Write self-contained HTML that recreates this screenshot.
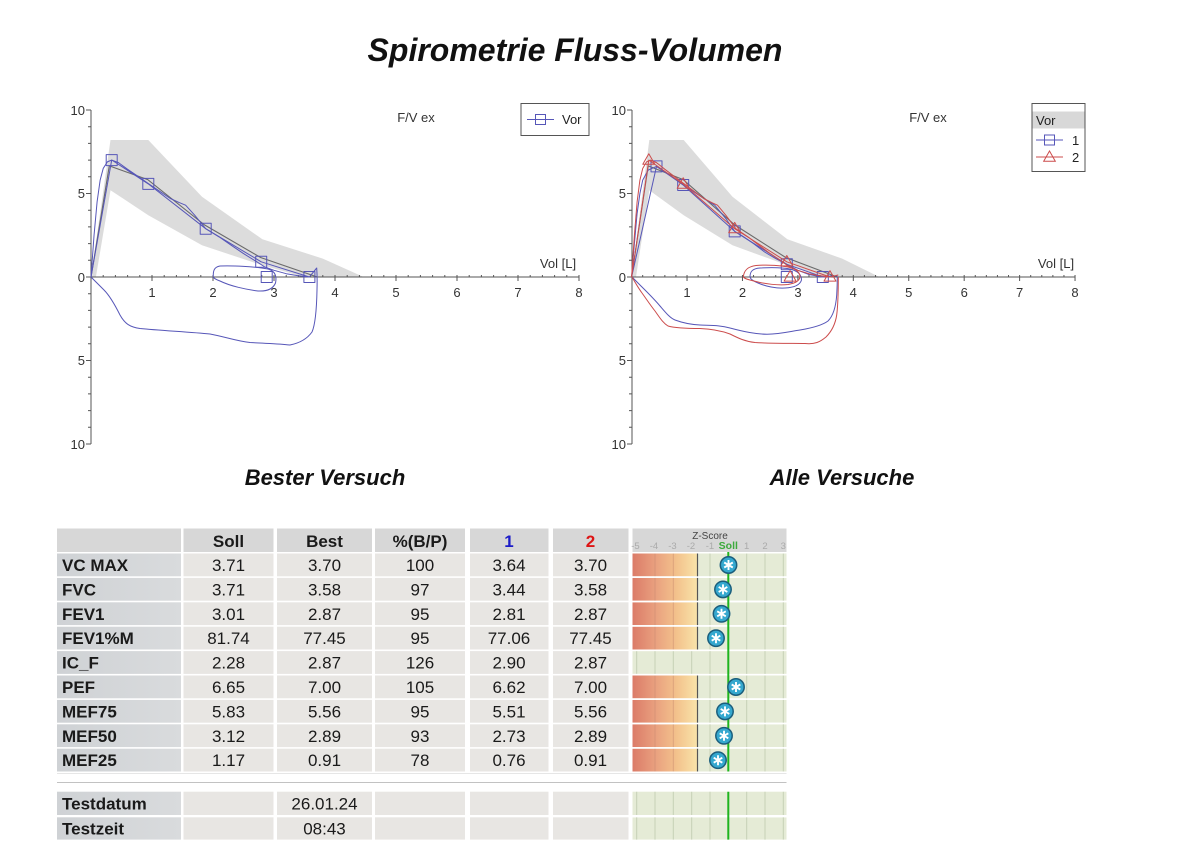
<!DOCTYPE html>
<html><head><meta charset="utf-8"><style>
html,body{margin:0;padding:0;background:#fff;}
svg{display:block;font-family:"Liberation Sans",Arial,sans-serif;}
</style></head><body>
<svg width="1190" height="860" viewBox="0 0 1190 860" xmlns="http://www.w3.org/2000/svg">
<defs>
<linearGradient id="zg" x1="632.5" y1="0" x2="697.5" y2="0" gradientUnits="userSpaceOnUse">
<stop offset="0" stop-color="#db7b68"/><stop offset="0.35" stop-color="#e9a07f"/><stop offset="0.68" stop-color="#f3c28c"/><stop offset="1" stop-color="#f9e4aa"/>
</linearGradient>
<linearGradient id="lg" x1="0" y1="0" x2="1" y2="0"><stop offset="0" stop-color="#cfd2d5"/><stop offset="1" stop-color="#d9dbdd"/></linearGradient>
<g id="star"><circle r="8.2" fill="#35a8cf" stroke="#1b5e7c" stroke-width="1.5"/><path d="M0 -5V5M-4.3 -2.5L4.3 2.5M-4.3 2.5L4.3 -2.5" stroke="#fff" stroke-width="1.9" fill="none"/></g>
</defs>

<!-- Title -->
<text x="575" y="61" text-anchor="middle" font-size="32" font-weight="bold" font-style="italic" fill="#111">Spirometrie Fluss-Volumen</text>

<!-- ===== LEFT CHART ===== -->
<polygon points="91,277 110.5,140 148.3,140 202,196.8 262.4,239.3 322.8,258.6 363.7,277 304.5,277 262.4,265.3 202,245.3 148.3,215.2 110.5,190.2 95.9,277" fill="#dcdcdc"/>
<polyline points="91,277 109.3,165.9 147.7,179.6 204.5,224.9 260.6,257.5 317.3,277" fill="none" stroke="#6a6a6a" stroke-width="1.1"/>
<!-- axes -->
<path d="M91 110V444M91 277H579" stroke="#555" stroke-width="1" fill="none"/>
<path d="M86 110h5M88 126.7h3M88 143.4h3M88 160.1h3M88 176.8h3M86 193.5h5M88 210.2h3M88 226.9h3M88 243.6h3M88 260.3h3M86 277h5M88 293.7h3M88 310.4h3M88 327.1h3M88 343.8h3M86 360.5h5M88 377.2h3M88 393.9h3M88 410.6h3M88 427.3h3M86 444h5" stroke="#555" stroke-width="1"/>
<g transform="translate(91,277) scale(61,1)">
<path vector-effect="non-scaling-stroke" stroke="#555" stroke-width="1" fill="none" d="M0 0v-2m.2 2v-2m.2 2v-2m.2 2v-2m.2 2v-2m.2 2v-2m.2 2v-2m.2 2v-2m.2 2v-2m.2 2v-2m.2 2v-2m.2 2v-2m.2 2v-2m.2 2v-2m.2 2v-2m.2 2v-2m.2 2v-2m.2 2v-2m.2 2v-2m.2 2v-2m.2 2v-2m.2 2v-2m.2 2v-2m.2 2v-2m.2 2v-2m.2 2v-2m.2 2v-2m.2 2v-2m.2 2v-2m.2 2v-2m.2 2v-2m.2 2v-2m.2 2v-2m.2 2v-2m.2 2v-2m.2 2v-2m.2 2v-2m.2 2v-2m.2 2v-2m.2 2v-2m.2 2v-2M1 0v4M2 0v4M3 0v4M4 0v4M5 0v4M6 0v4M7 0v4M8 0v4"/>
</g>
<g font-size="13" fill="#333">
<text x="85" y="115" text-anchor="end">10</text>
<text x="85" y="198" text-anchor="end">5</text>
<text x="85" y="282" text-anchor="end">0</text>
<text x="85" y="365" text-anchor="end">5</text>
<text x="85" y="449" text-anchor="end">10</text>
<g text-anchor="middle">
<text x="152" y="297">1</text><text x="213" y="297">2</text><text x="274" y="297">3</text><text x="335" y="297">4</text><text x="396" y="297">5</text><text x="457" y="297">6</text><text x="518" y="297">7</text><text x="579" y="297">8</text>
<text x="416" y="122">F/V ex</text>
<text x="558" y="268">Vol [L]</text>
</g>
</g>
<!-- blue best curves -->
<g fill="none" stroke="#5656b8" stroke-width="1" stroke-linejoin="round">
<polyline points="91,277 111.7,160 148.3,183.9 205.7,228.7 261.2,261.8 309.4,277"/>
<polyline points="91,277 94.05,235.25 97.1,201.85 100.15,180.1 103.2,168.45 107.47,161.77 111.74,160.1 118.45,162.6 127.6,169.3 139.8,177.6 148.3,183.5 158.1,190.2 170.3,198.5 179.5,202.7 185.6,205.2 194.7,215.2 205.7,228.7 219.1,236.9 231.3,245.3 243.5,253.6 255.7,261.1 264.9,267 274,270.3 286.2,273.7 298.4,275.7 309.4,277 316.7,268"/>
<path d="M91 277C96 282 100 286 104 290C110 296 115 305 120 315C125 324 130 327 140 328.5C160 330.5 190 332 210 334C226 337 236 341 250 342.5C265 343.5 278 343.5 290 345C300 343 307 339 312 332C316 323 316.7 305 317 290C317.3 280 317 272 316.7 267.7"/>
<path d="M213.3 277C213 271 214 267 220 266C232 265.5 255 266.5 268 269C275 271 277 276 275.5 283C273 289 267 291.5 258 291C246 289.5 230 286 220 281C216 279.5 214 278.5 213.3 277Z"/>
<rect x="106.2" y="154.6" width="11" height="11"/>
<rect x="142.8" y="178.4" width="11" height="11"/>
<rect x="200.2" y="223.2" width="11" height="11"/>
<rect x="255.7" y="256.3" width="11" height="11"/>
<rect x="261.2" y="271.5" width="11" height="11"/>
<rect x="303.9" y="271.5" width="11" height="11"/>
</g>
<!-- left legend -->
<rect x="521" y="103.5" width="68" height="32" fill="#fff" stroke="#555" stroke-width="1"/>
<path d="M527 119.5h27" stroke="#5656b8" stroke-width="1"/>
<rect x="535.5" y="114.5" width="10" height="10" fill="none" stroke="#5656b8" stroke-width="1"/>
<text x="562" y="124" font-size="13" fill="#222">Vor</text>

<!-- ===== RIGHT CHART ===== -->
<polygon points="631.6,277 649.3,140 683.7,140 732.5,196.8 787.4,239.3 842.2,258.6 879.4,277 825.6,277 787.4,265.3 732.5,245.3 683.7,215.2 649.3,190.2 636,277" fill="#dcdcdc"/>
<polyline points="631.6,277 648.2,165.9 683.2,179.6 734.7,224.9 785.7,257.5 837.2,277" fill="none" stroke="#6a6a6a" stroke-width="1.1"/>
<path d="M632 110V444M632 277H1075" stroke="#555" stroke-width="1" fill="none"/>
<g transform="translate(541,0)">
<path d="M86 110h5M88 126.7h3M88 143.4h3M88 160.1h3M88 176.8h3M86 193.5h5M88 210.2h3M88 226.9h3M88 243.6h3M88 260.3h3M86 277h5M88 293.7h3M88 310.4h3M88 327.1h3M88 343.8h3M86 360.5h5M88 377.2h3M88 393.9h3M88 410.6h3M88 427.3h3M86 444h5" stroke="#555" stroke-width="1"/>
</g>
<g transform="translate(631.6,277) scale(55.43,1)">
<path vector-effect="non-scaling-stroke" stroke="#555" stroke-width="1" fill="none" d="M0 0v-2m.2 2v-2m.2 2v-2m.2 2v-2m.2 2v-2m.2 2v-2m.2 2v-2m.2 2v-2m.2 2v-2m.2 2v-2m.2 2v-2m.2 2v-2m.2 2v-2m.2 2v-2m.2 2v-2m.2 2v-2m.2 2v-2m.2 2v-2m.2 2v-2m.2 2v-2m.2 2v-2m.2 2v-2m.2 2v-2m.2 2v-2m.2 2v-2m.2 2v-2m.2 2v-2m.2 2v-2m.2 2v-2m.2 2v-2m.2 2v-2m.2 2v-2m.2 2v-2m.2 2v-2m.2 2v-2m.2 2v-2m.2 2v-2m.2 2v-2m.2 2v-2m.2 2v-2m.2 2v-2M1 0v4M2 0v4M3 0v4M4 0v4M5 0v4M6 0v4M7 0v4M8 0v4"/>
</g>
<g font-size="13" fill="#333">
<text x="626" y="115" text-anchor="end">10</text>
<text x="626" y="198" text-anchor="end">5</text>
<text x="626" y="282" text-anchor="end">0</text>
<text x="626" y="365" text-anchor="end">5</text>
<text x="626" y="449" text-anchor="end">10</text>
<g text-anchor="middle">
<text x="687" y="297">1</text><text x="742.5" y="297">2</text><text x="798" y="297">3</text><text x="853.3" y="297">4</text><text x="908.8" y="297">5</text><text x="964.2" y="297">6</text><text x="1019.6" y="297">7</text><text x="1075" y="297">8</text>
<text x="928" y="122">F/V ex</text>
<text x="1056" y="268">Vol [L]</text>
</g>
</g>
<!-- blue trial 1 -->
<g fill="none" stroke="#5656b8" stroke-width="1" stroke-linejoin="round">
<polyline points="631.6,277 656.5,166.4 683.2,185 734.7,231.4 786.8,264.3 822.8,277"/>
<polyline points="631.6,277 634.4,243.6 637.1,213.5 639.9,193.5 642.7,180.1 648.2,170.1 656.5,166.4 664.9,171.8 675.9,179.3 683.2,185 692.6,191 703.7,198.5 714.7,205.2 725.8,218.6 734.7,231.4 742.5,236.1 753.5,243.6 764.6,252 775.7,258.6 786.8,264.3 797.9,270.3 809,274.5 822.3,277 831.2,276 837.3,276"/>
<path d="M632 277C637 282 640 285 644 289C650 295 655 300 660 306C666 313 670 318 675 320C683 323 690 324.5 700 325C710 325.5 720 325 730 328C745 332 755 334 767 334.3C780 334 790 331.5 800 330C812 328 822 325.5 828 321C834 315 836 305 836.7 295C837.2 287 837.3 280 837.3 277"/>
<path d="M750 277C750 271 753 268.5 760 268C770 267.5 782 267.5 790 269C798 271 801.5 275 801.5 280C800 285 795 287.5 785 288C775 288.5 765 286 758 283C753 281 750.5 279 750 277Z"/>
<rect x="651" y="160.9" width="11" height="11"/>
<rect x="677.7" y="179.5" width="11" height="11"/>
<rect x="729.2" y="225.9" width="11" height="11"/>
<rect x="781.3" y="258.8" width="11" height="11"/>
<rect x="781.3" y="271.5" width="11" height="11"/>
<rect x="817.3" y="271.5" width="11" height="11"/>
</g>
<!-- red trial 2 -->
<g fill="none" stroke="#cc4c4c" stroke-width="1" stroke-linejoin="round">
<polyline points="631.6,277 648.8,160.1 683.2,184.1 734.7,228.7 786.8,261.8 830,277"/>
<polyline points="631.6,277 634.4,235.3 637.1,201.9 639.9,180.1 642.7,168.5 646.6,161.8 650.4,160.1 656.5,162.6 664.9,169.3 675.9,177.6 683.7,183.5 692.6,190.2 703.7,198.5 712,202.7 717.5,205.2 725.8,215.2 735.8,228.7 748,236.9 759.1,245.3 770.2,253.6 781.3,261.1 789.6,267 797.9,270.3 809,273.7 820.1,275.7 830,277 836.7,275.3 838.3,275"/>
<path d="M632 277C636 284 639 289 642 293C647 300 651 306 655 311C660 318 663 323 668 326C675 328 685 328.5 700 328.5C712 329 722 331 730 334C738 338 745 341.5 755 342.5C770 343.5 790 343.3 805 343.5C815 344.5 820 342 826 337C832 331 835.5 323 836.7 315C838 305 838.3 295 838.3 277"/>
<path d="M743.3 277C744 270 748 266.5 756 265.5C768 264.5 782 265.5 790 267.5C797 269.5 800 272.5 800 277C799 281 796 283 788 284.5C778 285.5 765 284 756 281.5C749 280 745 279 743.3 277Z"/>
<polygon points="648.8,153.8 654.8,164.2 642.8,164.2"/>
<polygon points="683.2,177.8 689.2,188.2 677.2,188.2"/>
<polygon points="734.7,222.4 740.7,232.8 728.7,232.8"/>
<polygon points="786.8,255.5 792.8,265.9 780.8,265.9"/>
<polygon points="790.1,270.7 796.1,281.1 784.1,281.1"/>
<polygon points="830,270.7 836,281.1 824,281.1"/>
</g>
<!-- right legend -->
<rect x="1032" y="103.5" width="53" height="68" fill="#fff" stroke="#555" stroke-width="1"/>
<rect x="1032.5" y="111.5" width="52" height="17" fill="#d8d8d8"/>
<text x="1036" y="125" font-size="13" fill="#222">Vor</text>
<path d="M1036 140h27" stroke="#5656b8" stroke-width="1"/>
<rect x="1044.5" y="135" width="10" height="10" fill="none" stroke="#5656b8" stroke-width="1"/>
<text x="1072" y="145" font-size="13" fill="#222">1</text>
<path d="M1036 157h27" stroke="#cc4c4c" stroke-width="1"/>
<polygon points="1049.5,151 1055.3,161.2 1043.7,161.2" fill="none" stroke="#cc4c4c" stroke-width="1"/>
<text x="1072" y="162" font-size="13" fill="#222">2</text>

<!-- subtitles -->
<text x="325" y="485" text-anchor="middle" font-size="22" font-weight="bold" font-style="italic" fill="#111">Bester Versuch</text>
<text x="842" y="485" text-anchor="middle" font-size="22" font-weight="bold" font-style="italic" fill="#111">Alle Versuche</text>

<!-- ===== TABLE ===== -->
<g fill="#d7d7d7">
<rect x="57" y="528.5" width="124" height="23.5"/>
<rect x="183.5" y="528.5" width="90" height="23.5"/>
<rect x="277" y="528.5" width="95" height="23.5"/>
<rect x="375" y="528.5" width="90" height="23.5"/>
<rect x="470" y="528.5" width="78.5" height="23.5"/>
<rect x="553" y="528.5" width="75.5" height="23.5"/>
<rect x="632.5" y="528.5" width="154" height="23.5"/>
</g>
<g font-size="17" font-weight="bold" fill="#1a1a1a" text-anchor="middle">
<text x="228.5" y="547">Soll</text>
<text x="324.5" y="547">Best</text>
<text x="420" y="547">%(B/P)</text>
<text x="509" y="547" fill="#1c1cc8">1</text>
<text x="590.5" y="547" fill="#dd1414">2</text>
</g>
<text x="710" y="539" font-size="10" fill="#444" text-anchor="middle">Z-Score</text>
<g font-size="9.5" fill="#aaa" text-anchor="middle">
<text x="635.5" y="549">-5</text><text x="654" y="549">-4</text><text x="672.5" y="549">-3</text><text x="691" y="549">-2</text><text x="710" y="549">-1</text>
<text x="728.3" y="549" fill="#3caa3c" font-weight="bold" font-size="10.5">Soll</text>
<text x="746.7" y="549">1</text><text x="765" y="549">2</text><text x="783.3" y="549">3</text>
</g>

<g>
<g fill="url(#lg)">
<rect x="57" y="553.5" width="124" height="22.8"/><rect x="57" y="577.9" width="124" height="22.8"/><rect x="57" y="602.3" width="124" height="22.8"/><rect x="57" y="626.7" width="124" height="22.8"/><rect x="57" y="651.1" width="124" height="22.8"/><rect x="57" y="675.5" width="124" height="22.8"/><rect x="57" y="699.9" width="124" height="22.8"/><rect x="57" y="724.3" width="124" height="22.8"/><rect x="57" y="748.7" width="124" height="22.8"/>
<rect x="57" y="791.7" width="124" height="23.3"/><rect x="57" y="817.3" width="124" height="22.3"/>
</g>
<g fill="#e8e6e3">
<rect x="183.5" y="553.5" width="90" height="22.8"/><rect x="277" y="553.5" width="95" height="22.8"/><rect x="375" y="553.5" width="90" height="22.8"/><rect x="470" y="553.5" width="78.5" height="22.8"/><rect x="553" y="553.5" width="75.5" height="22.8"/>
<rect x="183.5" y="577.9" width="90" height="22.8"/><rect x="277" y="577.9" width="95" height="22.8"/><rect x="375" y="577.9" width="90" height="22.8"/><rect x="470" y="577.9" width="78.5" height="22.8"/><rect x="553" y="577.9" width="75.5" height="22.8"/>
<rect x="183.5" y="602.3" width="90" height="22.8"/><rect x="277" y="602.3" width="95" height="22.8"/><rect x="375" y="602.3" width="90" height="22.8"/><rect x="470" y="602.3" width="78.5" height="22.8"/><rect x="553" y="602.3" width="75.5" height="22.8"/>
<rect x="183.5" y="626.7" width="90" height="22.8"/><rect x="277" y="626.7" width="95" height="22.8"/><rect x="375" y="626.7" width="90" height="22.8"/><rect x="470" y="626.7" width="78.5" height="22.8"/><rect x="553" y="626.7" width="75.5" height="22.8"/>
<rect x="183.5" y="651.1" width="90" height="22.8"/><rect x="277" y="651.1" width="95" height="22.8"/><rect x="375" y="651.1" width="90" height="22.8"/><rect x="470" y="651.1" width="78.5" height="22.8"/><rect x="553" y="651.1" width="75.5" height="22.8"/>
<rect x="183.5" y="675.5" width="90" height="22.8"/><rect x="277" y="675.5" width="95" height="22.8"/><rect x="375" y="675.5" width="90" height="22.8"/><rect x="470" y="675.5" width="78.5" height="22.8"/><rect x="553" y="675.5" width="75.5" height="22.8"/>
<rect x="183.5" y="699.9" width="90" height="22.8"/><rect x="277" y="699.9" width="95" height="22.8"/><rect x="375" y="699.9" width="90" height="22.8"/><rect x="470" y="699.9" width="78.5" height="22.8"/><rect x="553" y="699.9" width="75.5" height="22.8"/>
<rect x="183.5" y="724.3" width="90" height="22.8"/><rect x="277" y="724.3" width="95" height="22.8"/><rect x="375" y="724.3" width="90" height="22.8"/><rect x="470" y="724.3" width="78.5" height="22.8"/><rect x="553" y="724.3" width="75.5" height="22.8"/>
<rect x="183.5" y="748.7" width="90" height="22.8"/><rect x="277" y="748.7" width="95" height="22.8"/><rect x="375" y="748.7" width="90" height="22.8"/><rect x="470" y="748.7" width="78.5" height="22.8"/><rect x="553" y="748.7" width="75.5" height="22.8"/>
<rect x="183.5" y="791.7" width="90" height="23.3"/><rect x="277" y="791.7" width="95" height="23.3"/><rect x="375" y="791.7" width="90" height="23.3"/><rect x="470" y="791.7" width="78.5" height="23.3"/><rect x="553" y="791.7" width="75.5" height="23.3"/>
<rect x="183.5" y="817.3" width="90" height="22.3"/><rect x="277" y="817.3" width="95" height="22.3"/><rect x="375" y="817.3" width="90" height="22.3"/><rect x="470" y="817.3" width="78.5" height="22.3"/><rect x="553" y="817.3" width="75.5" height="22.3"/>
</g>
<g fill="#e5ebd6">
<rect x="632.5" y="553.5" width="154" height="22.8"/><rect x="632.5" y="577.9" width="154" height="22.8"/><rect x="632.5" y="602.3" width="154" height="22.8"/><rect x="632.5" y="626.7" width="154" height="22.8"/><rect x="632.5" y="651.1" width="154" height="22.8"/><rect x="632.5" y="675.5" width="154" height="22.8"/><rect x="632.5" y="699.9" width="154" height="22.8"/><rect x="632.5" y="724.3" width="154" height="22.8"/><rect x="632.5" y="748.7" width="154" height="22.8"/>
<rect x="632.5" y="791.7" width="154" height="23.3"/><rect x="632.5" y="817.3" width="154" height="22.3"/>
</g>
<g fill="url(#zg)">
<rect x="632.5" y="553.5" width="65" height="22.8"/><rect x="632.5" y="577.9" width="65" height="22.8"/><rect x="632.5" y="602.3" width="65" height="22.8"/><rect x="632.5" y="626.7" width="65" height="22.8"/><rect x="632.5" y="675.5" width="65" height="22.8"/><rect x="632.5" y="699.9" width="65" height="22.8"/><rect x="632.5" y="724.3" width="65" height="22.8"/><rect x="632.5" y="748.7" width="65" height="22.8"/>
</g>
<g stroke="#c6d0b6" stroke-width="1">
<path d="M710 553.5V771.5M746.7 553.5V771.5M765 553.5V771.5M783.3 553.5V771.5"/>
<path d="M710 791.7V839.6M746.7 791.7V839.6M765 791.7V839.6M783.3 791.7V839.6"/>
<path d="M636.7 651.1V673.9M655 651.1V673.9M673.3 651.1V673.9M691.7 651.1V673.9"/>
<path d="M636.7 791.7V839.6M655 791.7V839.6M673.3 791.7V839.6M691.7 791.7V839.6"/>
</g>
<g stroke="#c98a6e" stroke-width="1" opacity="0.5">
<path d="M655 553.5V650M673.3 553.5V650M655 675.5V771.5M673.3 675.5V771.5"/>
</g>
<g stroke="#555" stroke-width="1.2">
<path d="M697.5 553.5V649.5M697.5 675.5V771.5"/>
</g>
<g fill="#fff">
<rect x="632.5" y="576.3" width="154" height="1.6"/><rect x="632.5" y="600.7" width="154" height="1.6"/><rect x="632.5" y="625.1" width="154" height="1.6"/><rect x="632.5" y="649.5" width="154" height="1.6"/><rect x="632.5" y="673.9" width="154" height="1.6"/><rect x="632.5" y="698.3" width="154" height="1.6"/><rect x="632.5" y="722.7" width="154" height="1.6"/><rect x="632.5" y="747.1" width="154" height="1.6"/><rect x="632.5" y="815" width="154" height="2.3"/>
</g>
<path d="M728.3 552V771.5M728.3 791.7V839.6" stroke="#1fb41f" stroke-width="2"/>
</g>

<path d="M57 773.5H786.5" stroke="#e6e6e6" stroke-width="1"/>
<path d="M57 782.5H786.5" stroke="#c2c2c2" stroke-width="1"/>

<use href="#star" x="728.5" y="565"/>
<use href="#star" x="723" y="589.4"/>
<use href="#star" x="721.5" y="613.8"/>
<use href="#star" x="716" y="638.2"/>
<use href="#star" x="736" y="687"/>
<use href="#star" x="725" y="711.4"/>
<use href="#star" x="724" y="735.8"/>
<use href="#star" x="718" y="760.2"/>

<g font-size="17" font-weight="bold" fill="#1a1a1a">
<text x="62" y="571">VC MAX</text>
<text x="62" y="595.4">FVC</text>
<text x="62" y="619.8">FEV1</text>
<text x="62" y="644.2">FEV1%M</text>
<text x="62" y="668.6">IC_F</text>
<text x="62" y="693">PEF</text>
<text x="62" y="717.4">MEF75</text>
<text x="62" y="741.8">MEF50</text>
<text x="62" y="766.2">MEF25</text>
<text x="62" y="809.5">Testdatum</text>
<text x="62" y="834.5">Testzeit</text>
</g>
<g font-size="17" fill="#1a1a1a" text-anchor="middle">
<text x="228.5" y="571">3.71</text><text x="324.5" y="571">3.70</text><text x="420" y="571">100</text><text x="509" y="571">3.64</text><text x="590.5" y="571">3.70</text>
<text x="228.5" y="595.4">3.71</text><text x="324.5" y="595.4">3.58</text><text x="420" y="595.4">97</text><text x="509" y="595.4">3.44</text><text x="590.5" y="595.4">3.58</text>
<text x="228.5" y="619.8">3.01</text><text x="324.5" y="619.8">2.87</text><text x="420" y="619.8">95</text><text x="509" y="619.8">2.81</text><text x="590.5" y="619.8">2.87</text>
<text x="228.5" y="644.2">81.74</text><text x="324.5" y="644.2">77.45</text><text x="420" y="644.2">95</text><text x="509" y="644.2">77.06</text><text x="590.5" y="644.2">77.45</text>
<text x="228.5" y="668.6">2.28</text><text x="324.5" y="668.6">2.87</text><text x="420" y="668.6">126</text><text x="509" y="668.6">2.90</text><text x="590.5" y="668.6">2.87</text>
<text x="228.5" y="693">6.65</text><text x="324.5" y="693">7.00</text><text x="420" y="693">105</text><text x="509" y="693">6.62</text><text x="590.5" y="693">7.00</text>
<text x="228.5" y="717.4">5.83</text><text x="324.5" y="717.4">5.56</text><text x="420" y="717.4">95</text><text x="509" y="717.4">5.51</text><text x="590.5" y="717.4">5.56</text>
<text x="228.5" y="741.8">3.12</text><text x="324.5" y="741.8">2.89</text><text x="420" y="741.8">93</text><text x="509" y="741.8">2.73</text><text x="590.5" y="741.8">2.89</text>
<text x="228.5" y="766.2">1.17</text><text x="324.5" y="766.2">0.91</text><text x="420" y="766.2">78</text><text x="509" y="766.2">0.76</text><text x="590.5" y="766.2">0.91</text>
<text x="324.5" y="809.5">26.01.24</text>
<text x="324.5" y="834.5">08:43</text>
</g>
</svg>
</body></html>
